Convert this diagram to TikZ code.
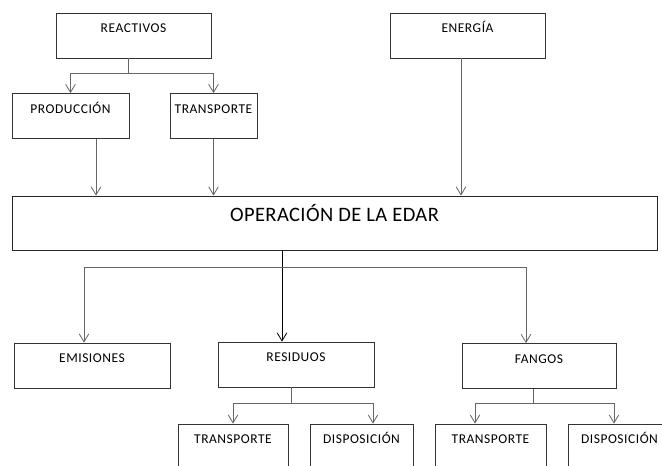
\documentclass[tikz,border=0pt]{standalone}
\usepackage{fontspec}
\setmainfont{Carlito}
\newfontfamily\cajafont[LetterSpace=4]{Carlito}
\newfontfamily\edarfont[LetterSpace=2]{Carlito}
\usetikzlibrary{arrows, arrows.meta, shapes, positioning}

\tikzset{
  caja/.style={draw=black!80, line width=0.7pt, inner sep=0pt, text height=5.9mm, text depth=7.6mm, text centered, font=\cajafont\fontsize{11.5}{13}\selectfont},
  cajaedar/.style={draw=black!85, line width=0.7pt, inner sep=0pt, text height=7.8mm, text depth=8.4mm, text centered, font=\edarfont\fontsize{17.5}{20}\selectfont},
  linea/.style={draw=black!60, line width=0.7pt},
  flecha/.style={linea, -{Straight Barb[length=2.4mm, width=2.9mm]}}
}

\begin{document}
\begin{tikzpicture}
    \useasboundingbox (0,0) rectangle (19.86,-13.98);
    \clip (0,0) rectangle (19.86,-13.98);
    % nodes %
      \node[caja, minimum width=4.65cm] (reac) at (4.005,-1.065) {REACTIVOS};
      \node[caja, minimum width=4.65cm, right of = reac, node distance=10.02cm] (ener) {ENERGÍA};
      \node[caja, minimum width=3.51cm] (prod) at (2.115,-3.48) {PRODUCCIÓN};
      \node[caja, minimum width=2.61cm, right of = prod, node distance=4.29cm] (trans) {TRANSPORTE};
      \node[cajaedar, minimum width=19.35cm] (edar) at (10.035,-6.69) {OPERACIÓN DE LA EDAR};
      \node[caja, minimum width=4.68cm] (emis) at (2.76,-10.965) {EMISIONES};
      \node[caja, minimum width=4.68cm] (resid) at (8.88,-10.935) {RESIDUOS};
      \node[caja, minimum width=4.62cm] (fangos) at (16.17,-10.98) {FANGOS};
      \node[caja, minimum width=3.3cm] (rtrans) at (6.99,-13.395) {TRANSPORTE};
      \node[caja, minimum width=3.09cm, right of = rtrans, node distance=3.855cm] (rdisp) {DISPOSICIÓN};
      \node[caja, minimum width=3.33cm] (ftrans) at (14.715,-13.395) {TRANSPORTE};
      \node[caja, minimum width=3.09cm, right of = ftrans, node distance=3.87cm] (fdisp) {DISPOSICIÓN};

      % edges %
      \coordinate (rj) at ([xshift=-0.165cm, yshift=-0.45cm]reac.south);
      \draw[linea] ([xshift=-0.165cm]reac.south) -- (rj);
      \draw[flecha] (rj) -| (prod.north);
      \draw[flecha] (rj) -| (trans.north);

      \coordinate (p1) at ([xshift=0.765cm]prod.south);
      \draw[flecha] (p1) -- (p1 |- edar.north);
      \draw[flecha] (trans.south) -- (trans.south |- edar.north);
      \coordinate (e0) at ([xshift=-0.195cm]ener.south);
      \draw[flecha] (e0) -- (e0 |- edar.north);

      \coordinate (e1) at ([xshift=-1.575cm]edar.south);
      \draw[flecha, draw=black] (e1) -- (e1 |- resid.north);
      \coordinate (hy) at ([yshift=-0.51cm]edar.south);
      \coordinate (ea) at ([xshift=-0.24cm]emis.north);
      \coordinate (fa) at ([xshift=-0.39cm]fangos.north);
      \draw[flecha] (hy -| fa) -- (hy -| ea) -- (ea);
      \draw[flecha] (hy -| fa) -- (fa);

      \coordinate (r0) at ([xshift=-0.15cm]resid.south);
      \coordinate (rj2) at ([yshift=-0.48cm]r0);
      \coordinate (ra) at ([xshift=0.345cm]rdisp.north);
      \draw[linea] (r0) -- (rj2);
      \draw[flecha] (rj2) -| (rtrans.north);
      \draw[flecha] (rj2) -| (ra);

      \coordinate (f0) at ([xshift=-0.18cm]fangos.south);
      \coordinate (fj) at ([yshift=-0.42cm]f0);
      \coordinate (fb) at ([xshift=-0.465cm]ftrans.north);
      \coordinate (fc) at ([xshift=-0.165cm]fdisp.north);
      \draw[linea] (f0) -- (fj);
      \draw[flecha] (fj) -| (fb);
      \draw[flecha] (fj) -| (fc);
    \end{tikzpicture}
\end{document}
